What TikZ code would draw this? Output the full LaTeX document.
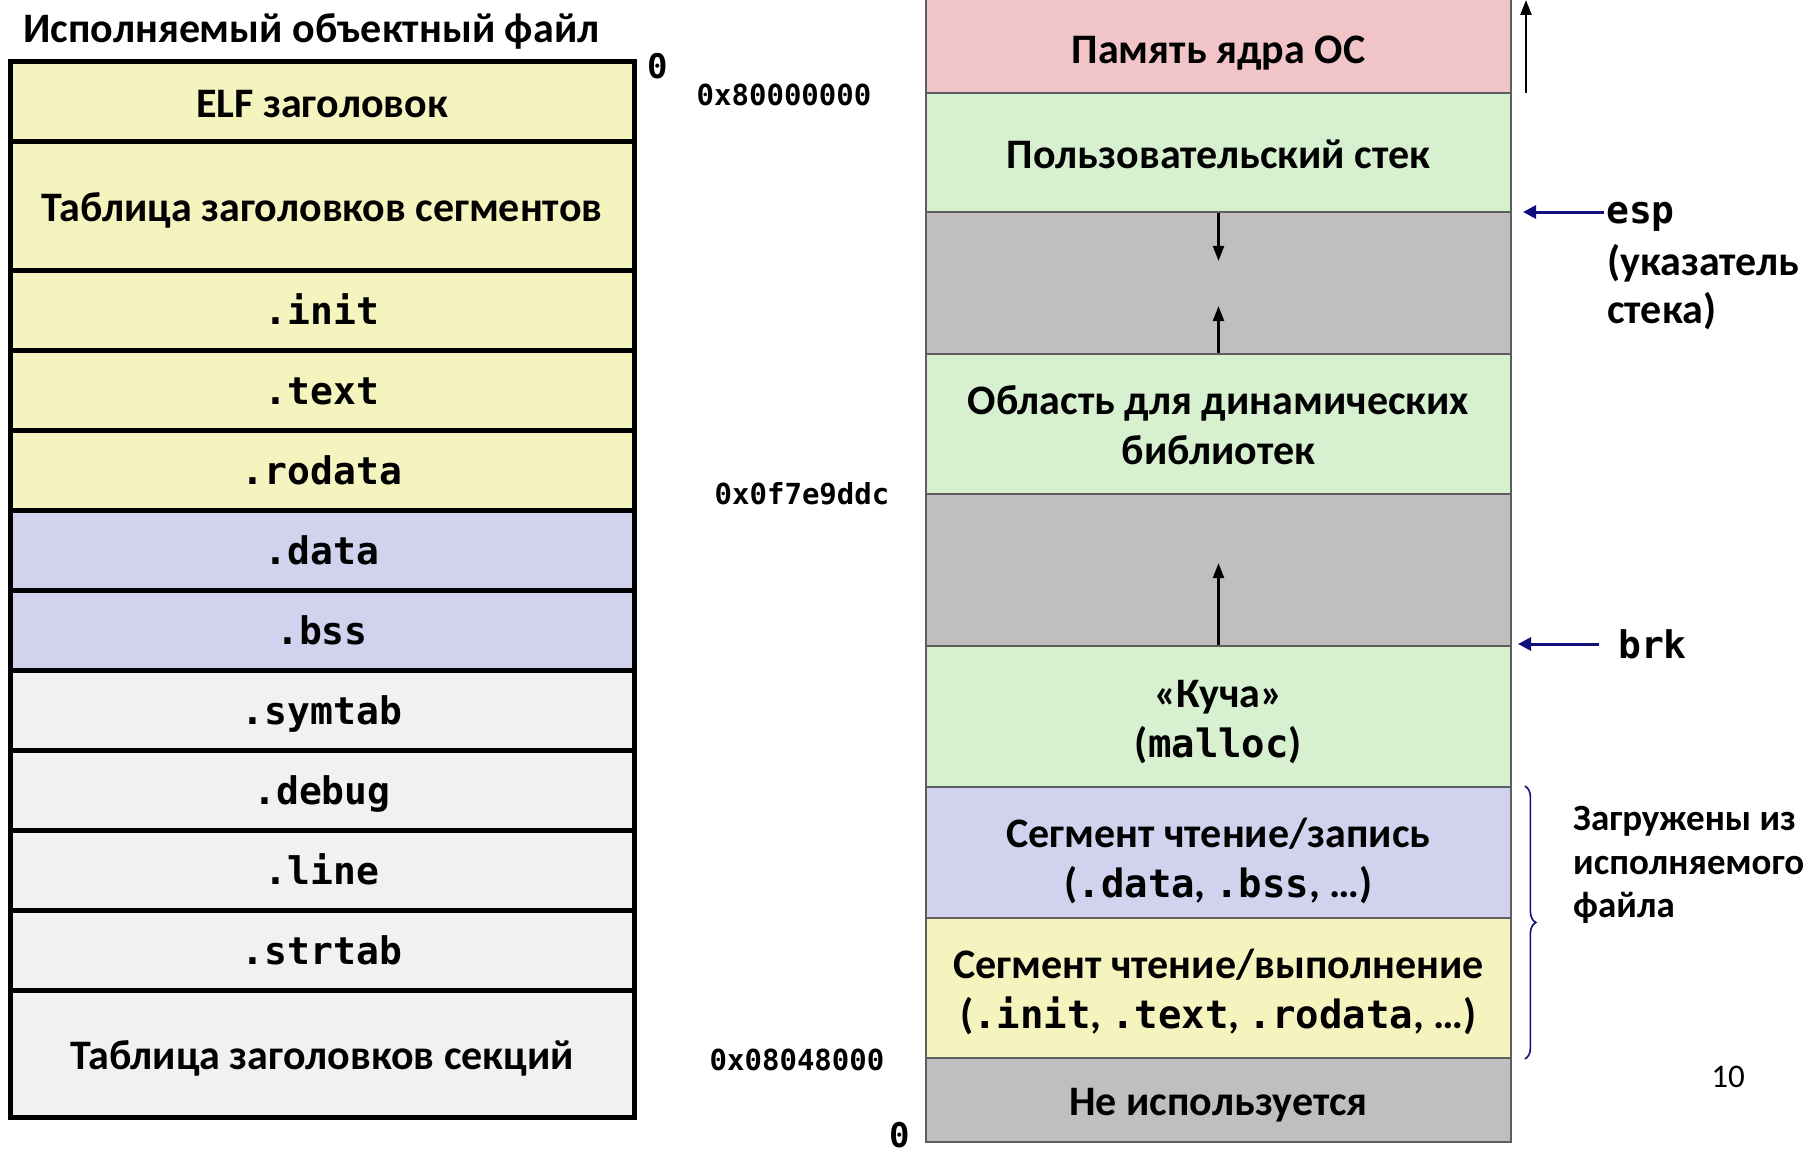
\documentclass[tikz,border=0pt]{standalone}
\usepackage{fontspec}
\setmainfont{Carlito}
\newfontfamily\codefont{DejaVu Sans Mono}
\usetikzlibrary{arrows.meta,decorations.pathreplacing}

\definecolor{hdryellow}{HTML}{F5F3BE}
\definecolor{datalav}{HTML}{D0D2EE}
\definecolor{infogray}{HTML}{F1F1F1}
\definecolor{kernelpink}{HTML}{F1C5C7}
\definecolor{usergreen}{HTML}{D6F0D0}
\definecolor{gapgray}{HTML}{BFBFBF}
\definecolor{memline}{HTML}{5E5E5E}
\definecolor{ptrnavy}{HTML}{10107A}

% section names inside the address-space rows
\newcommand{\code}[1]{{\codefont\bfseries\fontsize{39pt}{50pt}\selectfont #1}}

\begin{document}
\begin{tikzpicture}[x=1pt,y=-1pt,
  % one text line: fixed height/depth so every line sits alike
  oneline/.style={text height=42pt, text depth=10.5pt},
  twolines/.style={text height=92pt, text depth=10.5pt},
  filebox/.style={draw=black, line width=5pt, minimum width=624pt, inner sep=0pt,
    oneline, font=\bfseries\fontsize{42pt}{50pt}\selectfont},
  secname/.style={filebox, text height=29pt, text depth=0pt,
    font=\codefont\bfseries\fontsize{38pt}{46pt}\selectfont},
  memrow/.style={draw=memline, line width=1.8pt, minimum width=585pt, inner sep=0pt,
    align=center, font=\bfseries\fontsize{42pt}{50pt}\selectfont},
  addr/.style={inner sep=0pt, font=\codefont\bfseries\fontsize{29pt}{34pt}\selectfont},
  zero/.style={inner sep=0pt, font=\codefont\bfseries\fontsize{34pt}{40pt}\selectfont},
  growarrow/.style={line width=2.4pt, -{Triangle[length=15pt,width=11pt]}},
  ptrarrow/.style={draw=ptrnavy, line width=3pt, -{Triangle[length=13pt,width=13pt]}},
  sidenote/.style={inner sep=0pt, anchor=west, font=\bfseries\fontsize{42pt}{48pt}\selectfont}
]
\useasboundingbox (0,0) rectangle (1810,1153);

% ---- executable object file layout ----
\node[inner sep=0pt, anchor=west, font=\bfseries\fontsize{42pt}{48pt}\selectfont] (ftitle) at (23,31) {Исполняемый объектный файл};

\node[filebox, fill=hdryellow, minimum height=80pt]  (elf)    at (322,102)   {ELF заголовок};
\node[filebox, fill=hdryellow, minimum height=128pt] (phdr)   at (322,206)   {Таблица заголовков сегментов};
\node[secname, fill=hdryellow, minimum height=80pt]  (init)   at (322,310)   {.init};
\node[secname, fill=hdryellow, minimum height=80pt]  (text)   at (322,390)   {.text};
\node[secname, fill=hdryellow, minimum height=80pt]  (rodata) at (322,470)   {.rodata};
\node[secname, fill=datalav,   minimum height=80pt]  (data)   at (322,550)   {.data};
\node[secname, fill=datalav,   minimum height=80pt]  (bss)    at (322,630)   {.bss};
\node[secname, fill=infogray,  minimum height=80pt]  (symtab) at (322,710)   {.symtab};
\node[secname, fill=infogray,  minimum height=80pt]  (debug)  at (322,790)   {.debug};
\node[secname, fill=infogray,  minimum height=80pt]  (line)   at (322,870)   {.line};
\node[secname, fill=infogray,  minimum height=80pt]  (strtab) at (322,950)   {.strtab};
\node[filebox, fill=infogray,  minimum height=127pt] (shdr)   at (322,1053.5){Таблица заголовков секций};

\node[zero] (fzero) at (658,66) {0};

% ---- process address space ----
\node[memrow, fill=kernelpink, minimum height=95pt, text height=47pt, text depth=10.5pt] (kernel) at (1218.5,45.5) {Память ядра ОС};
\node[memrow, oneline,   fill=usergreen, minimum height=119pt] (ustack) at (1218.5,152.5) {Пользовательский стек};
\node[memrow,            fill=gapgray,   minimum height=142pt] (gapa)   at (1218.5,283)   {};
\node[memrow, twolines,  fill=usergreen, minimum height=140pt] (shlib)  at (1218.5,424)   {Область для динамических\\библиотек};
\node[memrow,            fill=gapgray,   minimum height=152pt] (gapb)   at (1218.5,570)   {};
\node[memrow, twolines,  fill=usergreen, minimum height=141pt] (heap)   at (1218.5,716.5) {«Куча»\\(\code{malloc})};
\node[memrow, twolines,  fill=datalav,   minimum height=131pt, text height=100pt] (rwseg) at (1218.5,852.5) {Сегмент чтение/запись\\(\code{.data}, \code{.bss}, …)};
\node[memrow, twolines,  fill=hdryellow, minimum height=140pt] (rxseg)  at (1218.5,988)   {Сегмент чтение/выполнение\\(\code{.init}, \code{.text}, \code{.rodata}, …)};
\node[memrow, oneline,   fill=gapgray,   minimum height=84pt]  (unused) at (1218.5,1100)  {Не используется};

% addresses on the left of the address space
\node[addr] (a80) at (784,95)   {0x80000000};
\node[addr] (a0f) at (802,494)  {0x0f7e9ddc};
\node[addr] (a08) at (797,1060) {0x08048000};
\node[zero] (mzero) at (900,1135) {0};

% growth directions
\coordinate (ktop)  at (1526,0);
\coordinate (kfoot) at (1526,93);
\draw[growarrow] (kfoot) -- (ktop);
\draw[growarrow] (ustack.south) -- ++(0,48);
\draw[growarrow] (shlib.north) -- ++(0,-47);
\draw[growarrow] (heap.north) -- ++(0,-82);

% stack pointer and program break
\node[sidenote, font=\codefont\bfseries\fontsize{38pt}{46pt}\selectfont] (esp) at (1606,217) {esp};
\node[sidenote] (espa) at (1607,263) {(указатель};
\node[sidenote] (espb) at (1607,311) {стека)};
\coordinate (esptip) at (1523,212);
\draw[ptrarrow, shorten <=2pt] (esptip -| esp.west) -- (esptip);

\node[sidenote, font=\codefont\bfseries\fontsize{38pt}{46pt}\selectfont] (brk) at (1618,644) {brk};
\coordinate (brktip) at (1518,644);
\draw[ptrarrow, shorten <=19pt] (brk.west) -- (brktip);

% segments loaded from the file
\coordinate (brtop) at ([xshift=13pt]rwseg.north east);
\coordinate (brbot) at ([xshift=13pt]rxseg.south east);
\draw[ptrnavy, line width=1.6pt, decorate, decoration={brace, amplitude=11pt}] (brtop) -- (brbot);
\node[inner sep=0pt, anchor=west, align=left, font=\bfseries\fontsize{37pt}{43.5pt}\selectfont] (loaded) at (1573,865) {Загружены из\\исполняемого\\файла};

\node[inner sep=0pt, font=\fontsize{33pt}{40pt}\selectfont] (pageno) at (1728,1077) {10};
\end{tikzpicture}
\end{document}
